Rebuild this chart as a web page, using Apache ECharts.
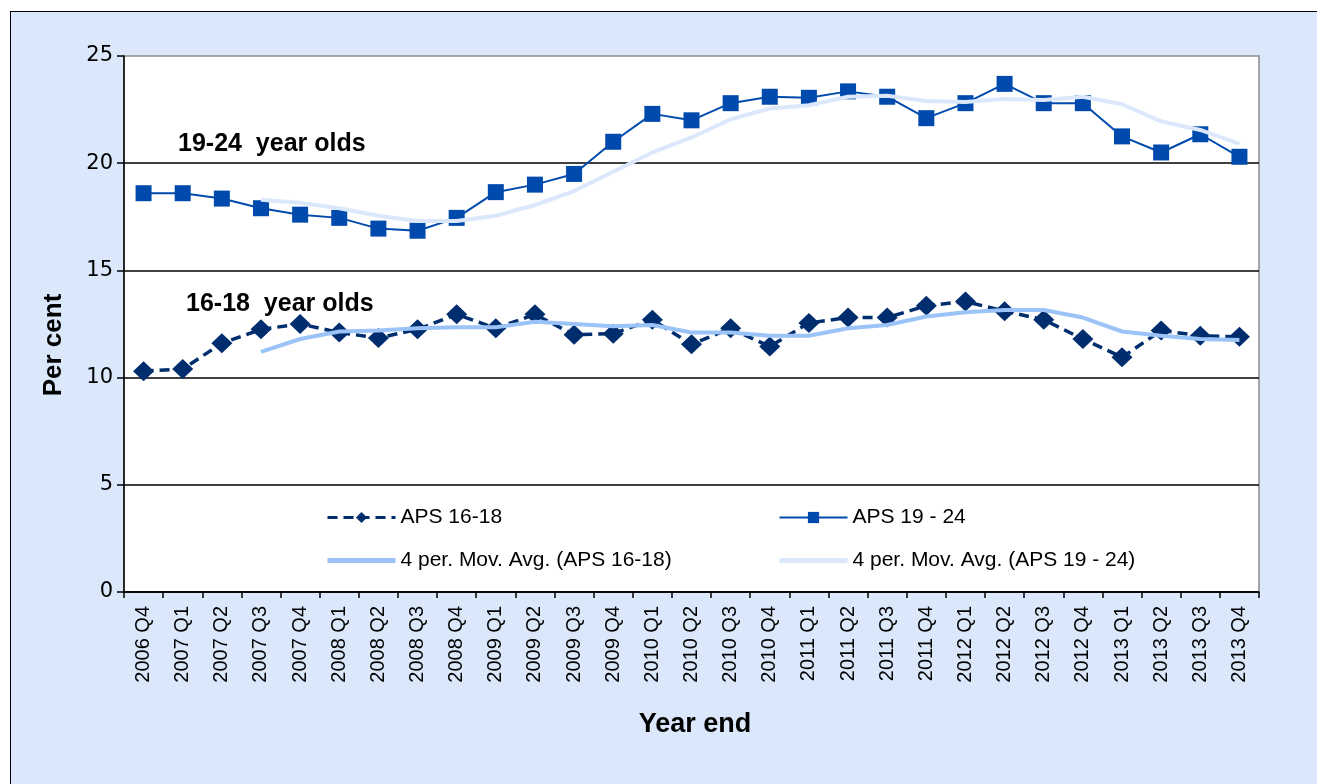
<!DOCTYPE html>
<html>
<head>
<meta charset="utf-8">
<script src="https://cdn.jsdelivr.net/npm/echarts@6/dist/echarts.min.js"></script>
<style>
  html, body { margin: 0; padding: 0; background: #ffffff; }
  #frame { position: absolute; left: 10px; top: 11px; width: 1320px; height: 790px; background: #dbe8fc; border: 1px solid #000; }
  #chart { position: absolute; left: 0; top: 0; width: 1317px; height: 784px; }
</style>
</head>
<body>
<div id="frame"></div>
<div id="chart"></div>
<script>
const categories = ['2006 Q4','2007 Q1','2007 Q2','2007 Q3','2007 Q4','2008 Q1','2008 Q2','2008 Q3','2008 Q4','2009 Q1','2009 Q2','2009 Q3','2009 Q4','2010 Q1','2010 Q2','2010 Q3','2010 Q4','2011 Q1','2011 Q2','2011 Q3','2011 Q4','2012 Q1','2012 Q2','2012 Q3','2012 Q4','2013 Q1','2013 Q2','2013 Q3','2013 Q4'];

const aps1618 = [10.3, 10.4, 11.6, 12.25, 12.5, 12.1, 11.85, 12.25, 12.95, 12.3, 12.95, 12.0, 12.05, 12.7, 11.55, 12.3, 11.45, 12.55, 12.8, 12.8, 13.35, 13.55, 13.1, 12.7, 11.8, 10.95, 12.2, 11.95, 11.9];

const aps1924 = [18.6, 18.6, 18.35, 17.9, 17.6, 17.45, 16.95, 16.85, 17.45, 18.65, 19.0, 19.5, 21.0, 22.3, 22.0, 22.8, 23.1, 23.05, 23.35, 23.1, 22.1, 22.8, 23.7, 22.8, 22.8, 21.25, 20.5, 21.35, 20.3];

const ma1618 = [null, null, null, 11.2, 11.8, 12.15, 12.2, 12.3, 12.35, 12.35, 12.6, 12.5, 12.4, 12.45, 12.1, 12.1, 11.95, 11.95, 12.3, 12.45, 12.85, 13.05, 13.15, 13.15, 12.8, 12.15, 11.95, 11.8, 11.75];

const ma1924 = [null, null, null, 18.3, 18.15, 17.9, 17.55, 17.3, 17.3, 17.55, 18.05, 18.7, 19.6, 20.5, 21.2, 22.05, 22.55, 22.7, 23.1, 23.15, 22.9, 22.85, 23.0, 22.95, 23.1, 22.75, 21.95, 21.55, 20.9];

const yTicks = { min: 0, max: 25, interval: 5 };

const seriesNames = ['APS 16-18', 'APS 19 - 24', '4 per. Mov. Avg. (APS 16-18)', '4 per. Mov. Avg. (APS 19 - 24)'];
const annotations = ['19-24  year olds', '16-18  year olds'];

const chart = echarts.init(document.getElementById('chart'), null, { renderer: 'canvas' });

const legendText = { fontFamily: 'Liberation Sans', fontSize: 21, color: '#000' };

chart.setOption({
  animation: false,
  backgroundColor: 'transparent',
  grid: {
    left: 124, right: 58, top: 56, bottom: 192,
    show: true, backgroundColor: '#ffffff', borderColor: '#8c8c8c', borderWidth: 1.5
  },
  legend: [
    {
      orient: 'vertical', left: 325, top: 507, padding: 0,
      itemWidth: 68, itemHeight: 14, itemGap: 22,
      textStyle: legendText,
      data: [
        { name: seriesNames[0], lineStyle: { width: 3 } },
        { name: seriesNames[2], lineStyle: { width: 5 }, itemStyle: { opacity: 0 } }
      ]
    },
    {
      orient: 'vertical', left: 777, top: 507, padding: 0,
      itemWidth: 68, itemHeight: 14, itemGap: 22,
      textStyle: legendText,
      data: [
        { name: seriesNames[1], lineStyle: { width: 2 } },
        { name: seriesNames[3], lineStyle: { width: 5 }, itemStyle: { opacity: 0 } }
      ]
    }
  ],
  xAxis: {
    type: 'category',
    data: categories,
    boundaryGap: true,
    axisLine: { lineStyle: { color: '#000', width: 1.5 } },
    axisTick: { show: true, length: 6, lineStyle: { color: '#000', width: 1.5 } },
    axisLabel: {
      interval: 0, rotate: 90, margin: 14,
      fontFamily: 'Liberation Sans', fontSize: 20, color: '#000'
    },
    splitLine: { show: false }
  },
  yAxis: {
    type: 'value',
    min: yTicks.min, max: yTicks.max, interval: yTicks.interval,
    axisLine: { show: true, lineStyle: { color: '#000', width: 1.5 } },
    axisTick: { show: true, length: 7, lineStyle: { color: '#000', width: 1.5 } },
    axisLabel: { margin: 11, fontFamily: 'DejaVu Sans', fontSize: 21, color: '#000' },
    splitLine: { show: true, showMaxLine: false, lineStyle: { color: '#000', width: 1.5 } }
  },
  series: [
    {
      name: seriesNames[0], type: 'line', data: aps1618,
      symbol: 'diamond', symbolSize: [21, 20],
      itemStyle: { color: '#002d6e' },
      lineStyle: { color: '#002d6e', width: 3.5, type: [10, 6] },
      z: 2
    },
    {
      name: seriesNames[1], type: 'line', data: aps1924,
      symbol: 'rect', symbolSize: 16,
      itemStyle: { color: '#004aad' },
      lineStyle: { color: '#004aad', width: 2 },
      z: 2
    },
    {
      name: seriesNames[2], type: 'line', data: ma1618,
      symbol: 'none', showSymbol: false,
      itemStyle: { color: '#9cc3f7' },
      lineStyle: { color: '#9cc3f7', width: 4 },
      z: 3
    },
    {
      name: seriesNames[3], type: 'line', data: ma1924,
      symbol: 'none', showSymbol: false,
      itemStyle: { color: '#dbe8fc' },
      lineStyle: { color: '#dbe8fc', width: 4 },
      z: 3
    }
  ],
  graphic: [
    {
      type: 'text', x: 178, y: 144, z: 10,
      style: { text: annotations[0], font: 'bold 25px "Liberation Sans"', fill: '#000',
               textAlign: 'left', textVerticalAlign: 'middle' }
    },
    {
      type: 'text', x: 186, y: 304, z: 10,
      style: { text: annotations[1], font: 'bold 25px "Liberation Sans"', fill: '#000',
               textAlign: 'left', textVerticalAlign: 'middle' }
    },
    {
      type: 'text', x: 54, y: 345, rotation: Math.PI / 2, z: 10,
      style: { text: 'Per cent', font: 'bold 26px "Liberation Sans"', fill: '#000',
               textAlign: 'center', textVerticalAlign: 'middle' }
    },
    {
      type: 'text', x: 695, y: 725, z: 10,
      style: { text: 'Year end', font: 'bold 27px "Liberation Sans"', fill: '#000',
               textAlign: 'center', textVerticalAlign: 'middle' }
    }
  ]
});
</script>
</body>
</html>
